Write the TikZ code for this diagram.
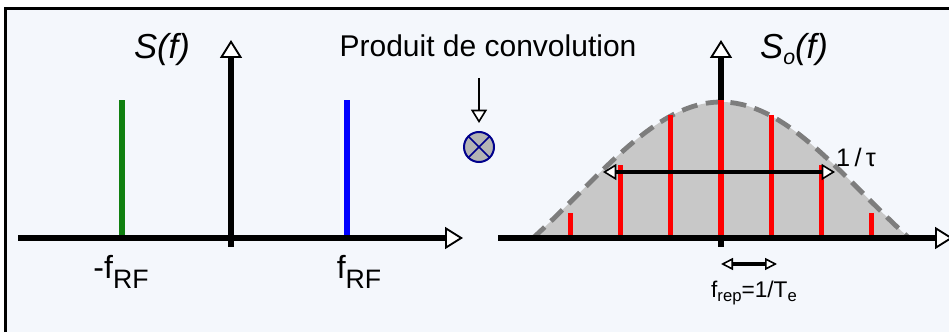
\documentclass[tikz,border=0pt]{standalone}
\usepackage{fontspec}
\setsansfont{Liberation Sans}
\usepackage{tikz}
\usetikzlibrary{arrows.meta}

\definecolor{panelbg}{RGB}{244,247,252}
\definecolor{envfill}{RGB}{200,200,200}
\definecolor{envline}{RGB}{125,125,125}
\definecolor{mixfill}{RGB}{180,180,180}
\definecolor{mixnavy}{RGB}{0,0,140}
\definecolor{lineGreen}{RGB}{16,128,16}
\definecolor{lineBlue}{RGB}{0,0,255}
\definecolor{lineRed}{RGB}{255,0,0}

% lowered, smaller text for subscripts: drop (pt), size (pt), text
\newcommand{\subtxt}[3]{\raisebox{-#1pt}{\fontsize{#2}{#2}\selectfont #3}}

\begin{document}
\begin{tikzpicture}[
  x=0.75pt, y=0.75pt,
  declare function={env(\t)=136*(0.8*cos(0.4787*\t)+0.2*cos(0.4787*\t)*cos(0.4787*\t));},
  bighead/.tip={Triangle[fill=white, length=13.5pt, width=16.5pt, line width=1.4pt]},
  midhead/.tip={Triangle[fill=white, length=10pt, width=12pt, line width=1.2pt]},
  smallhead/.tip={Triangle[fill=white, length=9pt, width=9pt, line width=1.2pt]},
  axis/.style={line width=3.8pt, -bighead},
  spike/.style={line width=4.5pt},
  comb/.style={line width=4pt, lineRed},
  title/.style={font=\sffamily\itshape\fontsize{26}{28}\selectfont, anchor=base},
  ticklbl/.style={font=\sffamily\fontsize{24}{26}\selectfont, anchor=base},
  note/.style={font=\sffamily\fontsize{22.5}{24}\selectfont, anchor=base},
  small/.style={font=\sffamily\fontsize{17}{19}\selectfont, anchor=base},
  mixer/.style={circle, draw=mixnavy, fill=mixfill, line width=1.5pt,
    minimum size=22.5pt, inner sep=0pt,
    path picture={\draw[line width=1.3pt]
      (path picture bounding box.south west) -- (path picture bounding box.north east)
      (path picture bounding box.north west) -- (path picture bounding box.south east);}},
]
\useasboundingbox (0,0) rectangle (949,332);

% --- Frame ---
\fill[panelbg] (5.5,0) rectangle (949,323.5);
\draw[line width=2pt] (5.5,0) -- (5.5,323.5) -- (949,323.5);

% --- Panel A: S(f) ---
\begin{scope}[shift={(231,94)}]
\draw[spike, lineGreen] (-109,0) -- (-109,138);
\draw[spike, lineBlue] (116,0) -- (116,138);
\coordinate (a0) at (-213,0);
\coordinate (a1) at (232,0);
\coordinate (b0) at (0,-9);
\coordinate (b1) at (0,198);
\draw[axis] (a0) -- (a1);
\draw[axis] (b0) -- (b1);
\node[title] (sf) at (-69,179.5) {S(f)};
\node[ticklbl] (mfrf) at (-110,-40) {-f\subtxt{7.5}{20}{RF}};
\node[ticklbl] (frf) at (128,-40) {f\subtxt{7.5}{20}{RF}};
\end{scope}

% --- Convolution sign ---
\node[note] (conv) at (488,275) {Produit de convolution};
\node[mixer] (mix) at (479,185) {};
\coordinate (convtop) at (479,254);
\draw[line width=1.5pt, -midhead, shorten >=6pt] (convtop) -- (mix);

% --- Panel B: So(f) ---
\begin{scope}[shift={(721,94)}]
% envelope
\fill[envfill] plot[domain=-188:188, samples=90] (\x, {env(\x)}) -- cycle;
\draw[envline, line width=3.6pt, dash pattern=on 12pt off 6.5pt]
  plot[domain=-188:188, samples=90] (\x, {env(\x)});
% axes and comb lines
\coordinate (c0) at (-223,0);
\coordinate (c1) at (232,0);
\coordinate (d0) at (0,-9);
\coordinate (d1) at (0,198);
\draw[axis] (d0) -- (d1);
\foreach \k/\h in {-3/25, -2/73, -1/123, 0/138, 1/123, 2/73, 3/25} {
  \draw[comb] (\k*50.2,0) -- (\k*50.2,\h);
}
\draw[axis] (c0) -- (c1);
% width 1/tau
\coordinate (tauL) at (-118,66);
\coordinate (tauR) at (114,66);
\draw[line width=2.4pt, midhead-midhead] (tauL) -- (tauR);
\node[small, font=\sffamily\fontsize{19}{21}\selectfont] (tau) at (135,71) {1\,/\,τ};
\node[title] (sof) at (73,179.5) {S\subtxt{4.5}{16}{o}(f)};
% repetition rate
\coordinate (repL) at (0,-26);
\coordinate (repR) at (56,-26);
\draw[line width=2.4pt, smallhead-smallhead] (repL) -- (repR);
\node[small] (frep) at (33,-59) {f\subtxt{3}{12.5}{rep}=1/T\subtxt{3.5}{12.5}{e}};
\end{scope}

\end{tikzpicture}
\end{document}
